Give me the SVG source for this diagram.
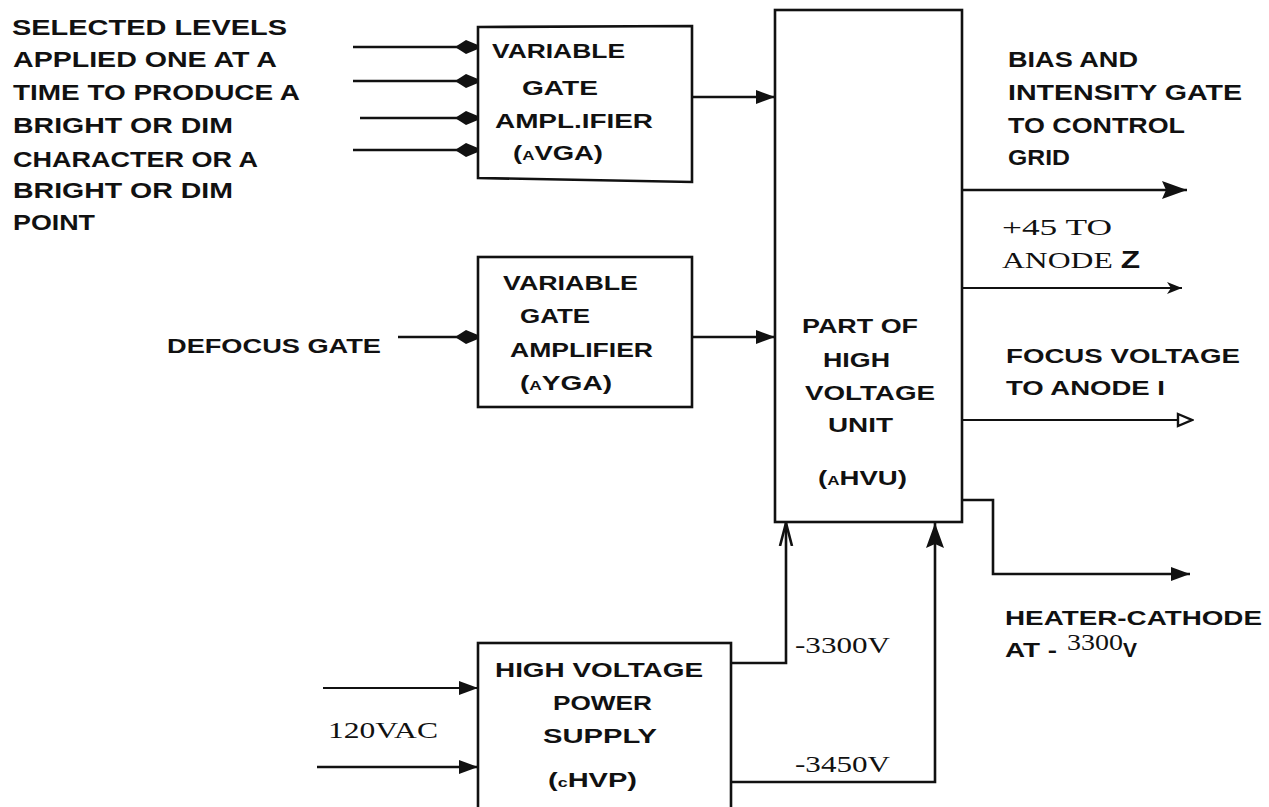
<svg xmlns="http://www.w3.org/2000/svg" width="1269" height="807" viewBox="0 0 1269 807">
<style>
.t{font-family:"Liberation Sans",Arial,sans-serif;font-weight:bold;font-size:22px;fill:#111}
.m{font-family:"Liberation Sans",Arial,sans-serif;font-weight:bold;font-size:21px;fill:#111}
.s{font-family:"Liberation Serif","Times New Roman",serif;font-size:23px;fill:#111}
.sm{font-size:13px}
.box{fill:#fff;stroke:#111;stroke-width:2.6}
.ln{fill:none;stroke:#111;stroke-width:2.6}
.th{fill:none;stroke:#111;stroke-width:2}
</style>
<defs>
<marker id="dia" markerUnits="userSpaceOnUse" markerWidth="24" markerHeight="16" viewBox="0 0 24 16" refX="23" refY="8" orient="auto"><path d="M0,8 L11,1 L23,6 L23,10 L11,15 Z" fill="#111"/></marker>
<marker id="tri" markerUnits="userSpaceOnUse" markerWidth="20" markerHeight="16" viewBox="0 0 20 16" refX="19" refY="8" orient="auto"><path d="M0,1 L19,8 L0,15 Z" fill="#111"/></marker>
<marker id="big" markerUnits="userSpaceOnUse" markerWidth="26" markerHeight="20" viewBox="0 0 26 20" refX="25" refY="10" orient="auto"><path d="M0,1 L25,10 L0,19 L4,10 Z" fill="#111"/></marker>
<marker id="sml" markerUnits="userSpaceOnUse" markerWidth="18" markerHeight="14" viewBox="0 0 18 14" refX="17" refY="7" orient="auto"><path d="M2,1 L17,7 L2,13 L6,7 Z" fill="#111"/></marker>
<marker id="opn" markerUnits="userSpaceOnUse" markerWidth="18" markerHeight="16" viewBox="0 0 18 16" refX="16" refY="8" orient="auto"><path d="M2,2 L16,8 L2,14 Z" fill="#fff" stroke="#111" stroke-width="2.4"/></marker>
<marker id="thn" markerUnits="userSpaceOnUse" markerWidth="24" markerHeight="16" viewBox="0 0 24 16" refX="23" refY="8" orient="auto"><path d="M0,2 L23,8 L0,14" fill="none" stroke="#111" stroke-width="2.6"/></marker>
</defs>

<g id="connectors">
<path class="ln" d="M353,47 H478" marker-end="url(#dia)"/>
<path class="ln" d="M353,81 H478" marker-end="url(#dia)"/>
<path class="ln" d="M360,118 H478" marker-end="url(#dia)"/>
<path class="ln" d="M353,150 H478" marker-end="url(#dia)"/>
<path class="ln" d="M692,97 H775" marker-end="url(#tri)"/>
<path class="ln" d="M398,337 H478" marker-end="url(#dia)"/>
<path class="ln" d="M692,337 H775" marker-end="url(#tri)"/>
<path class="ln" d="M962,190 H1187" marker-end="url(#big)"/>
<path class="th" d="M962,288 H1182" marker-end="url(#sml)"/>
<path class="th" d="M962,420 H1192" marker-end="url(#opn)"/>
<path class="ln" d="M962,500 H993 V574 H1190" marker-end="url(#tri)"/>
<path class="th" d="M323,688 H478" marker-end="url(#tri)"/>
<path class="ln" d="M317,767 H478" marker-end="url(#tri)"/>
<path class="ln" d="M731,663 H786 V523" marker-end="url(#thn)"/>
<path class="ln" d="M731,782 H935 V523" marker-end="url(#big)"/>
</g>

<g id="inputs-label">
<text class="t" x="12" y="35" textLength="275" lengthAdjust="spacingAndGlyphs">SELECTED LEVELS</text>
<text class="t" x="13" y="67" textLength="264" lengthAdjust="spacingAndGlyphs">APPLIED ONE AT A</text>
<text class="t" x="13" y="100" textLength="287" lengthAdjust="spacingAndGlyphs">TIME TO PRODUCE A</text>
<text class="t" x="13" y="133" textLength="220" lengthAdjust="spacingAndGlyphs">BRIGHT OR DIM</text>
<text class="t" x="13" y="167" textLength="245" lengthAdjust="spacingAndGlyphs">CHARACTER OR A</text>
<text class="t" x="13" y="198" textLength="220" lengthAdjust="spacingAndGlyphs">BRIGHT OR DIM</text>
<text class="t" x="13" y="230" textLength="82" lengthAdjust="spacingAndGlyphs">POINT</text>
</g>

<g id="vga1">
<path class="box" d="M478,27 L692,26 L692,182 L478,178 Z"/>
<text class="m" x="492" y="58" textLength="133" lengthAdjust="spacingAndGlyphs">VARIABLE</text>
<text class="m" x="522" y="95" textLength="76" lengthAdjust="spacingAndGlyphs">GATE</text>
<text class="m" x="495" y="128" textLength="158" lengthAdjust="spacingAndGlyphs">AMPL.IFIER</text>
<text class="m" x="513" y="160" textLength="90" lengthAdjust="spacingAndGlyphs">(<tspan class="sm">A</tspan>VGA)</text>
</g>

<g id="defocus-label">
<text class="m" x="167" y="353" textLength="214" lengthAdjust="spacingAndGlyphs">DEFOCUS GATE</text>
</g>

<g id="vga2">
<rect class="box" x="478" y="257" width="214" height="150"/>
<text class="m" x="503" y="290" textLength="135" lengthAdjust="spacingAndGlyphs">VARIABLE</text>
<text class="m" x="520" y="323" textLength="70" lengthAdjust="spacingAndGlyphs">GATE</text>
<text class="m" x="510" y="357" textLength="143" lengthAdjust="spacingAndGlyphs">AMPLIFIER</text>
<text class="m" x="520" y="390" textLength="92" lengthAdjust="spacingAndGlyphs">(<tspan class="sm">A</tspan>YGA)</text>
</g>

<g id="hvu">
<rect class="box" x="775" y="10" width="187" height="512"/>
<text class="m" x="802" y="333" textLength="116" lengthAdjust="spacingAndGlyphs">PART OF</text>
<text class="m" x="823" y="367" textLength="67" lengthAdjust="spacingAndGlyphs">HIGH</text>
<text class="m" x="805" y="400" textLength="130" lengthAdjust="spacingAndGlyphs">VOLTAGE</text>
<text class="m" x="828" y="432" textLength="65" lengthAdjust="spacingAndGlyphs">UNIT</text>
<text class="m" x="818" y="485" textLength="89" lengthAdjust="spacingAndGlyphs">(<tspan class="sm">A</tspan>HVU)</text>
</g>

<g id="outputs-labels">
<text class="t" x="1008" y="67" textLength="130" lengthAdjust="spacingAndGlyphs">BIAS AND</text>
<text class="t" x="1008" y="100" textLength="234" lengthAdjust="spacingAndGlyphs">INTENSITY GATE</text>
<text class="t" x="1008" y="133" textLength="177" lengthAdjust="spacingAndGlyphs">TO CONTROL</text>
<text class="t" x="1008" y="165" textLength="62" lengthAdjust="spacingAndGlyphs">GRID</text>
<text class="s" x="1002" y="235" textLength="110" lengthAdjust="spacingAndGlyphs">+45 TO</text>
<text class="s" x="1002" y="268" textLength="138" lengthAdjust="spacingAndGlyphs">ANODE <tspan style="font-family:'Liberation Sans',Arial,sans-serif;font-weight:bold">Z</tspan></text>
<text class="m" x="1006" y="363" textLength="234" lengthAdjust="spacingAndGlyphs">FOCUS VOLTAGE</text>
<text class="m" x="1006" y="395" textLength="159" lengthAdjust="spacingAndGlyphs">TO ANODE I</text>
<text class="m" x="1005" y="625" textLength="257" lengthAdjust="spacingAndGlyphs">HEATER-CATHODE</text>
<text class="m" x="1005" y="657" textLength="52" lengthAdjust="spacingAndGlyphs">AT -</text>
<text class="s" x="1067" y="650" textLength="56" lengthAdjust="spacingAndGlyphs">3300</text>
<text class="m" x="1123" y="657">V</text>
</g>

<g id="hvp">
<rect class="box" x="478" y="643" width="253" height="200"/>
<text class="m" x="495" y="677" textLength="208" lengthAdjust="spacingAndGlyphs">HIGH VOLTAGE</text>
<text class="m" x="553" y="710" textLength="99" lengthAdjust="spacingAndGlyphs">POWER</text>
<text class="m" x="543" y="743" textLength="114" lengthAdjust="spacingAndGlyphs">SUPPLY</text>
<text class="m" x="548" y="787" textLength="89" lengthAdjust="spacingAndGlyphs">(<tspan class="sm">c</tspan>HVP)</text>
</g>

<g id="supply-labels">
<text class="s" x="328" y="738" textLength="110" lengthAdjust="spacingAndGlyphs">120VAC</text>
<text class="s" x="795" y="653" textLength="95" lengthAdjust="spacingAndGlyphs">-3300V</text>
<text class="s" x="795" y="772" textLength="95" lengthAdjust="spacingAndGlyphs">-3450V</text>
</g>
</svg>
